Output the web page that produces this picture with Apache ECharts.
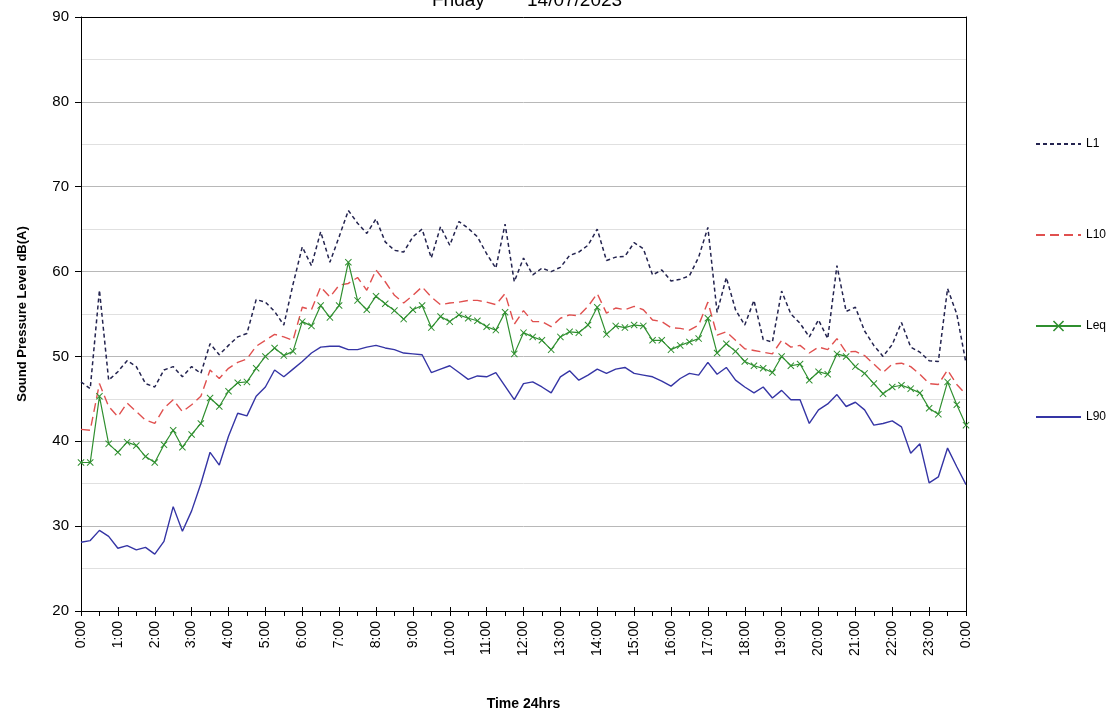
<!DOCTYPE html>
<html>
<head>
<meta charset="utf-8">
<script src="https://cdn.jsdelivr.net/npm/echarts@6/dist/echarts.min.js"></script>
<style>
html,body{margin:0;padding:0;background:#fff;}
#chart{width:1118px;height:713px;}
</style>
</head>
<body>
<div id="chart"></div>
<script>
// hourly tick labels; data are every 15 minutes (97 points, 0:00 .. 24:00)
const hourLabels = ['0:00','1:00','2:00','3:00','4:00','5:00','6:00','7:00','8:00','9:00','10:00','11:00',
  '12:00','13:00','14:00','15:00','16:00','17:00','18:00','19:00','20:00','21:00','22:00','23:00','0:00'];
const quarterSuffix = [':00', ':15', ':30', ':45'];

const L1 = [47.0,46.2,57.8,47.2,48.2,49.5,48.8,46.8,46.4,48.4,48.8,47.6,48.8,48.0,51.5,50.2,
  51.3,52.3,52.7,56.7,56.4,55.3,53.7,58.5,62.9,60.7,64.7,61.1,64.1,67.2,65.7,64.5,
  66.2,63.5,62.5,62.3,64.1,65.0,61.6,65.3,63.1,65.9,65.1,64.1,62.1,60.4,65.6,58.8,
  61.6,59.6,60.4,60.0,60.5,61.9,62.3,63.1,65.0,61.3,61.7,61.8,63.4,62.7,59.6,60.2,
  58.9,59.1,59.5,61.7,65.2,55.2,59.3,55.5,53.7,56.6,52.0,51.7,57.7,55.0,53.9,52.3,
  54.3,52.1,60.7,55.3,55.8,53.0,51.3,50.0,51.4,54.0,51.1,50.5,49.5,49.4,58.0,55.0,49.2];

const L10 = [41.4,41.3,46.8,44.1,42.9,44.5,43.5,42.5,42.1,43.9,44.9,43.5,44.3,45.3,48.4,47.4,
  48.6,49.3,49.7,51.2,51.9,52.6,52.3,51.9,55.8,55.5,58.2,57.0,58.4,58.6,59.3,57.8,
  60.2,58.8,57.2,56.3,57.2,58.2,57.0,56.1,56.3,56.4,56.6,56.6,56.4,56.1,57.4,53.8,
  55.4,54.1,54.1,53.5,54.5,54.9,54.8,55.9,57.4,55.1,55.7,55.5,55.9,55.5,54.3,54.1,
  53.4,53.3,53.1,53.7,56.4,52.5,52.9,51.9,50.9,50.7,50.5,50.3,51.9,51.1,51.3,50.4,
  51.1,50.8,52.1,50.5,50.6,50.1,49.1,48.1,49.1,49.2,48.8,47.9,46.8,46.7,48.4,46.7,45.5];

const Leq = [37.5,37.5,45.3,39.7,38.7,39.9,39.5,38.2,37.5,39.6,41.3,39.3,40.8,42.1,45.1,44.1,
  45.9,46.9,47.0,48.6,50.0,51.0,50.1,50.6,54.1,53.6,56.0,54.6,56.0,61.1,56.6,55.5,
  57.1,56.2,55.4,54.4,55.5,56.0,53.4,54.7,54.1,54.9,54.5,54.2,53.5,53.1,55.2,50.3,
  52.8,52.3,51.9,50.8,52.3,52.9,52.8,53.7,55.8,52.6,53.6,53.4,53.7,53.6,51.9,51.9,
  50.8,51.3,51.7,52.1,54.5,50.4,51.5,50.6,49.4,48.9,48.6,48.1,50.0,48.9,49.1,47.2,
  48.2,47.9,50.3,50.0,48.8,48.0,46.8,45.6,46.4,46.6,46.2,45.7,43.9,43.2,47.0,44.3,41.9];

const L90 = [28.1,28.3,29.5,28.8,27.4,27.7,27.2,27.5,26.7,28.2,32.3,29.4,31.8,35.0,38.7,37.2,
  40.6,43.3,43.0,45.3,46.4,48.4,47.6,48.5,49.4,50.4,51.1,51.2,51.2,50.8,50.8,51.1,
  51.3,51.0,50.8,50.4,50.3,50.2,48.1,48.5,48.9,48.1,47.3,47.7,47.6,48.1,46.5,44.9,
  46.8,47.0,46.4,45.7,47.6,48.3,47.2,47.8,48.5,48.0,48.5,48.7,48.0,47.8,47.6,47.1,
  46.5,47.4,48.0,47.8,49.3,47.9,48.7,47.2,46.4,45.7,46.4,45.1,46.0,44.9,44.9,42.1,
  43.7,44.4,45.5,44.1,44.6,43.7,41.9,42.1,42.4,41.7,38.6,39.7,35.1,35.8,39.2,37.0,34.9];

const yTicks = [20, 30, 40, 50, 60, 70, 80, 90];

// 15-minute category labels
const categories = [];
for (let h = 0; h < 24; h++) {
  for (let q = 0; q < 4; q++) categories.push(h + quarterSuffix[q]);
}
categories.push('24:00');

const FONT = 'Liberation Sans, Arial, sans-serif';
const crossPath = 'path://M0,1L1,0L5,4L9,0L10,1L6,5L10,9L9,10L5,6L1,10L0,9L4,5Z';
const hiddenMarker = {color: 'transparent', borderColor: 'transparent', borderWidth: 0, opacity: 0};

const chart = echarts.init(document.getElementById('chart'), null, {renderer: 'canvas'});
chart.setOption({
  animation: false,
  backgroundColor: '#fff',
  title: {
    text: 'Friday        14/07/2023',
    left: 432, top: -9, padding: 0,
    textStyle: {fontSize: 19, fontWeight: 'normal', fontFamily: FONT, color: '#000'}
  },
  grid: {left: 81, right: 152, top: 17, bottom: 102, containLabel: false, outerBoundsMode: 'none'},
  legend: {
    orient: 'vertical', left: 1030, top: 133,
    itemWidth: 45, itemHeight: 14, itemGap: 79,
    textStyle: {fontSize: 12, fontFamily: FONT, color: '#000'},
    data: [
      {name: 'L1', itemStyle: hiddenMarker},
      {name: 'L10', itemStyle: hiddenMarker},
      {name: 'Leq'},
      {name: 'L90', itemStyle: hiddenMarker}
    ]
  },
  xAxis: [
    {
      type: 'category', data: categories, boundaryGap: false, z: 4,
      axisLine: {lineStyle: {color: '#000', width: 1}},
      axisTick: {show: true, length: 5, interval: (i) => i % 2 === 0, lineStyle: {color: '#000'}},
      axisLabel: {
        interval: 3, rotate: 90, fontSize: 14, fontFamily: FONT, color: '#000', margin: 10,
        formatter: (v) => {
          const idx = categories.indexOf(v);
          return idx % 4 === 0 ? hourLabels[idx / 4] : '';
        }
      },
      splitLine: {show: false},
      name: 'Time 24hrs', nameLocation: 'middle', nameGap: 86,
      nameTextStyle: {fontSize: 14, fontWeight: 'bold', fontFamily: 'Liberation Sans Narrow, ' + FONT, color: '#000'}
    },
    {
      type: 'category', data: categories, boundaryGap: false, position: 'bottom', z: 4,
      axisLine: {show: false},
      axisTick: {show: true, inside: true, length: 4, interval: (i) => i % 4 === 0, lineStyle: {color: '#000'}},
      axisLabel: {show: false}, splitLine: {show: false}
    },
    {
      type: 'category', data: categories, boundaryGap: false, position: 'top', z: 4,
      axisLine: {show: true, lineStyle: {color: '#000', width: 1}},
      axisTick: {show: false}, axisLabel: {show: false}, splitLine: {show: false}
    }
  ],
  yAxis: [
    {
      type: 'value', min: yTicks[0], max: yTicks[yTicks.length - 1], interval: 10, z: 1,
      axisLine: {show: true, lineStyle: {color: '#000', width: 1}},
      axisTick: {show: true, length: 6, lineStyle: {color: '#000'}},
      axisLabel: {fontSize: 15, fontFamily: FONT, color: '#000', margin: 12},
      splitLine: {show: true, lineStyle: {color: '#b8b8b8', width: 1}},
      minorTick: {show: false, splitNumber: 2},
      minorSplitLine: {show: true, lineStyle: {color: '#e0e0e0', width: 1}},
      name: 'Sound Pressure Level dB(A)', nameLocation: 'middle', nameGap: 52,
      nameTextStyle: {fontSize: 13, fontWeight: 'bold', fontFamily: 'Liberation Sans Narrow, ' + FONT, color: '#000'}
    },
    {
      type: 'value', min: yTicks[0], max: yTicks[yTicks.length - 1], position: 'right', z: 4,
      axisLine: {show: true, lineStyle: {color: '#000', width: 1}},
      axisTick: {show: false}, axisLabel: {show: false}, splitLine: {show: false}
    }
  ],
  series: [
    {
      name: 'L1', type: 'line', data: L1, symbol: 'none', z: 3,
      color: '#23234f',
      lineStyle: {color: '#23234f', width: 1.5, type: [4, 3]}
    },
    {
      name: 'L10', type: 'line', data: L10, symbol: 'none', z: 3,
      color: '#e0504f',
      lineStyle: {color: '#e0504f', width: 1.4, type: [9, 5]}
    },
    {
      name: 'Leq', type: 'line', data: Leq, symbol: crossPath, symbolSize: 7, showAllSymbol: true, z: 4,
      color: '#2f8f2f',
      itemStyle: {color: '#2f8f2f'},
      lineStyle: {color: '#2f8f2f', width: 1.2}
    },
    {
      name: 'L90', type: 'line', data: L90, symbol: 'none', z: 3,
      color: '#3535a5',
      lineStyle: {color: '#3535a5', width: 1.4}
    }
  ]
});
</script>
</body>
</html>
